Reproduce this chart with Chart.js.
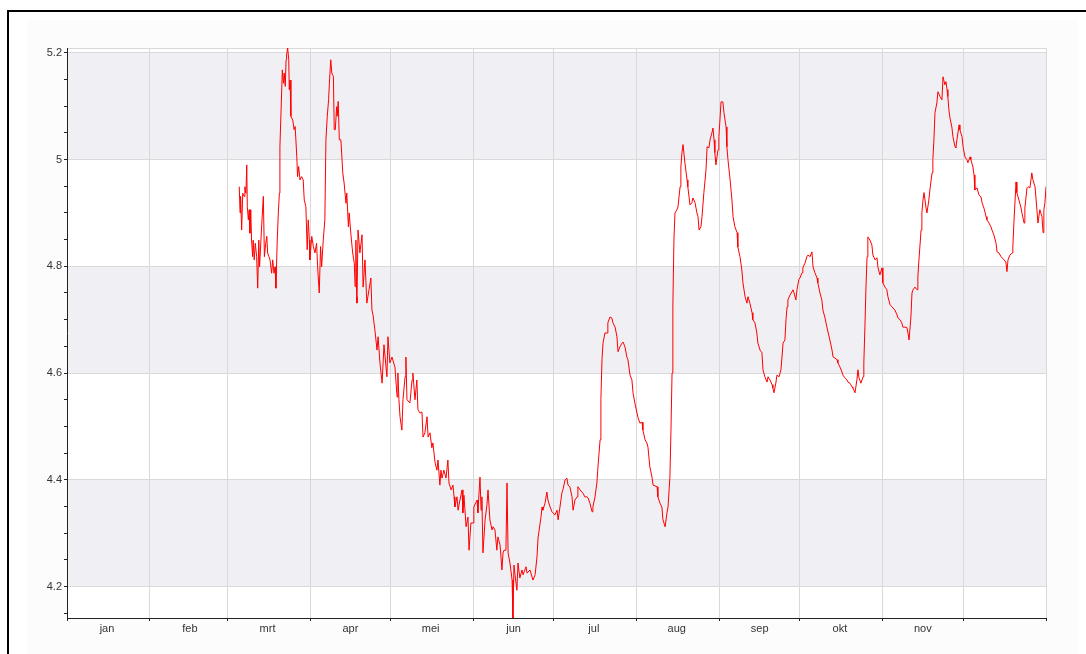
<!DOCTYPE html>
<html>
<head>
<meta charset="utf-8">
<script src="https://cdn.jsdelivr.net/npm/chart.js@4.4.1/dist/chart.umd.min.js"></script>
<style>
html,body{margin:0;padding:0;background:#fff;width:1086px;height:654px;overflow:hidden;}
#frame{position:absolute;left:7px;top:10px;width:1079px;height:644px;border-top:2px solid #000;border-left:2px solid #000;box-sizing:border-box;}
#panel{position:absolute;left:27px;top:20px;width:1051px;height:634px;background:#fcfcfc;}
#wrap{position:absolute;left:0;top:0;width:1086px;height:654px;}
</style>
</head>
<body>
<div id="frame"></div>
<div id="panel"></div>
<div id="wrap"><canvas id="c" width="1086" height="654"></canvas></div>
<script>
// Month axis (leap year, day index from 1 Jan)
const monthStarts = [0,31,60,91,121,152,182,213,244,274,305,335,366];
const monthLabels = ['jan','feb','mrt','apr','mei','jun','jul','aug','sep','okt','nov'];

// Y axis ticks
const yMin = 4.141, yMax = 5.209;
const yMajorStep = 0.2, yMinorStep = 0.05;
const shadedBands = [[4.2,4.4],[4.6,4.8],[5.0,5.2]];

// Series: day of year and level
const days = [
64.4,64.7,64.9,65.3,65.7,66.2,66.5,66.9,67.2,67.4,
67.8,68.1,68.4,68.7,69.0,69.4,69.6,70.0,70.4,70.9,
71.3,71.7,72.0,72.5,72.9,73.4,73.8,74.3,74.7,75.0,
75.5,75.9,76.5,76.9,77.4,77.8,78.1,78.6,79.0,79.4,
79.6,80.0,80.5,80.9,81.2,81.6,81.9,82.1,82.5,82.9,
83.1,83.4,83.7,84.4,84.9,85.3,85.9,86.2,86.6,87.1,
87.7,88.3,88.7,89.3,89.8,90.2,90.6,90.8,91.5,92.1,
92.7,93.3,93.7,94.3,94.8,95.2,95.8,96.4,96.8,97.3,
97.8,98.1,98.6,99.0,99.6,99.9,100.3,100.8,101.0,101.4,
101.8,102.4,103.1,103.6,104.3,104.6,105.2,105.5,106.1,106.8,
107.4,107.7,108.0,108.3,108.4,108.8,109.5,110.3,110.7,111.4,
112.1,112.9,113.6,114.0,114.4,115.1,115.9,116.3,117.0,117.8,
118.5,119.6,120.0,120.7,121.5,122.6,123.4,123.7,124.1,124.5,
125.2,125.6,126.4,126.7,127.1,128.2,129.0,129.3,130.1,130.8,
131.2,132.0,132.7,133.1,133.8,134.6,135.0,135.7,136.4,136.8,
137.6,138.3,138.7,139.4,139.8,140.2,140.9,141.7,142.4,142.8,
143.6,144.3,144.7,145.0,145.8,146.2,146.9,147.7,148.0,148.4,
149.2,149.9,150.3,151.0,151.8,152.1,153.3,153.6,154.4,154.8,
155.1,155.5,156.3,157.0,157.4,158.1,158.9,159.3,160.0,160.7,
161.1,161.9,162.6,163.0,163.4,164.1,164.5,164.9,165.6,166.4,
166.7,167.1,167.5,168.2,168.6,169.3,170.1,170.5,171.6,172.0,
173.1,174.2,175.0,175.7,176.1,177.2,177.6,177.9,178.7,179.4,
179.8,180.6,181.3,181.7,182.4,183.2,183.6,184.3,185.0,185.4,
186.2,186.9,187.3,188.0,188.8,189.2,189.9,190.7,191.0,191.8,
192.5,192.9,193.6,194.4,194.8,195.5,196.3,196.6,197.4,198.1,
198.5,199.3,199.6,200.0,200.4,201.1,201.9,202.2,203.0,203.7,
204.1,204.9,205.6,206.0,206.7,207.5,207.9,208.6,209.3,209.7,
210.5,211.2,211.6,212.3,213.1,213.5,214.2,215.0,215.3,216.1,
216.8,217.2,217.9,218.7,219.1,220.6,220.9,221.7,222.4,222.8,
223.6,224.3,224.7,225.4,225.8,226.2,226.5,226.9,227.3,228.0,
228.4,229.2,229.5,229.9,230.3,231.0,231.8,232.1,232.9,233.6,
234.0,234.8,235.5,235.9,236.3,237.0,237.4,238.1,238.9,239.3,
240.0,240.4,241.1,241.5,241.9,242.2,242.6,243.0,243.4,243.7,
244.1,244.5,245.2,245.6,246.4,246.7,247.1,247.9,248.6,249.0,
249.7,250.5,250.8,251.6,252.3,252.7,253.5,254.2,254.6,255.3,
256.1,256.4,257.2,257.9,258.3,259.1,259.8,260.2,260.9,261.7,
262.1,262.8,263.6,263.9,264.3,265.0,265.4,266.2,266.9,267.3,
267.7,268.4,268.8,269.2,269.5,270.3,271.0,271.4,271.8,272.5,
272.9,273.6,274.0,274.8,275.1,275.9,276.6,277.0,277.8,278.5,
278.9,279.6,280.4,280.7,281.5,282.2,282.6,283.4,284.1,284.5,
285.2,286.0,286.4,287.1,287.9,288.2,289.0,289.7,290.1,290.8,
291.6,292.0,292.7,293.5,293.8,294.6,295.3,295.7,296.1,296.8,
297.6,297.9,298.3,298.7,299.1,299.4,300.2,300.9,301.3,302.1,
302.8,303.2,303.9,304.7,305.0,305.8,306.5,306.9,307.7,308.4,
309.5,310.3,310.7,311.4,312.1,312.5,313.3,314.0,314.4,314.8,
315.5,315.9,316.3,317.0,317.8,318.1,318.5,319.3,319.6,320.0,
320.4,321.1,321.5,322.2,322.6,323.4,323.7,324.1,324.5,325.2,
325.6,326.4,327.1,327.5,328.2,328.6,329.0,329.3,329.7,330.1,
330.8,331.2,332.0,332.3,332.7,333.5,333.8,334.6,335.0,335.7,
336.4,336.8,337.6,337.9,338.7,339.1,339.4,340.2,340.9,341.7,
342.1,342.8,343.6,343.9,344.7,345.4,345.8,346.5,347.3,347.7,
348.4,349.2,350.3,351.0,351.4,351.8,352.5,353.3,353.6,354.0,
354.8,355.1,355.9,356.6,357.0,357.8,358.1,358.9,359.3,360.0,
360.7,361.1,361.9,362.6,363.0,363.7,364.5,364.9,365.2,365.6,366.0
];
const level = [
4.949,4.900,4.931,4.868,4.937,4.931,4.949,4.937,4.990,4.912,
4.887,4.906,4.862,4.906,4.849,4.818,4.849,4.812,4.843,4.818,
4.759,4.849,4.799,4.849,4.887,4.931,4.818,4.843,4.856,4.825,
4.818,4.812,4.787,4.812,4.787,4.799,4.759,4.849,4.900,4.937,
5.024,5.087,5.168,5.143,5.162,5.137,5.187,5.196,5.209,5.187,
5.131,5.149,5.081,5.074,5.056,5.062,5.006,4.968,4.987,4.962,
4.968,4.962,4.924,4.912,4.831,4.887,4.849,4.812,4.856,4.837,
4.825,4.843,4.799,4.750,4.837,4.799,4.849,4.887,5.037,5.081,
5.112,5.143,5.187,5.162,5.156,5.056,5.056,5.099,5.081,5.109,
5.037,5.037,4.975,4.956,4.918,4.937,4.874,4.900,4.862,4.825,
4.806,4.762,4.849,4.743,4.731,4.868,4.825,4.859,4.761,4.812,
4.731,4.756,4.778,4.718,4.709,4.681,4.643,4.668,4.619,4.581,
4.653,4.593,4.668,4.619,4.630,4.611,4.555,4.600,4.550,4.518,
4.493,4.550,4.593,4.630,4.550,4.544,4.587,4.600,4.550,4.587,
4.531,4.525,4.527,4.480,4.488,4.518,4.480,4.488,4.460,4.469,
4.432,4.418,4.437,4.390,4.418,4.403,4.418,4.403,4.437,4.394,
4.381,4.390,4.368,4.349,4.368,4.343,4.362,4.381,4.338,4.371,
4.312,4.330,4.268,4.319,4.319,4.349,4.362,4.338,4.405,4.343,
4.368,4.263,4.325,4.353,4.381,4.325,4.306,4.312,4.306,4.268,
4.293,4.278,4.231,4.263,4.268,4.268,4.394,4.263,4.244,4.212,
4.141,4.240,4.222,4.193,4.244,4.216,4.231,4.222,4.237,4.225,
4.231,4.212,4.222,4.255,4.291,4.330,4.349,4.343,4.356,4.377,
4.362,4.349,4.340,4.338,4.334,4.343,4.325,4.349,4.375,4.381,
4.400,4.403,4.390,4.387,4.368,4.343,4.362,4.368,4.387,4.381,
4.377,4.375,4.368,4.368,4.366,4.356,4.340,4.349,4.368,4.394,
4.424,4.475,4.550,4.625,4.656,4.675,4.675,4.694,4.705,4.703,
4.694,4.686,4.668,4.640,4.649,4.656,4.658,4.649,4.630,4.625,
4.596,4.587,4.563,4.544,4.525,4.516,4.506,4.508,4.493,4.475,
4.469,4.461,4.424,4.405,4.390,4.387,4.368,4.356,4.349,4.325,
4.312,4.338,4.349,4.405,4.493,4.600,4.724,4.849,4.900,4.906,
4.911,4.949,4.986,5.013,5.028,4.994,4.962,4.949,4.915,4.919,
4.928,4.919,4.900,4.893,4.868,4.874,4.893,4.938,4.981,5.024,
5.022,5.037,5.050,5.059,5.037,5.013,4.990,5.005,5.018,5.043,
5.074,5.108,5.108,5.088,5.061,5.024,5.000,4.962,4.924,4.893,
4.874,4.863,4.836,4.818,4.793,4.769,4.743,4.731,4.743,4.731,
4.713,4.700,4.694,4.675,4.656,4.643,4.638,4.606,4.593,4.583,
4.593,4.587,4.578,4.572,4.563,4.581,4.596,4.593,4.606,4.630,
4.656,4.662,4.700,4.724,4.737,4.746,4.752,4.756,4.750,4.737,
4.756,4.775,4.778,4.788,4.797,4.806,4.818,4.821,4.818,4.827,
4.799,4.788,4.778,4.769,4.750,4.737,4.718,4.703,4.686,4.677,
4.662,4.643,4.630,4.628,4.625,4.619,4.611,4.602,4.596,4.591,
4.587,4.583,4.581,4.574,4.572,4.563,4.587,4.606,4.591,4.581,
4.593,4.619,4.686,4.761,4.818,4.855,4.849,4.840,4.821,4.812,
4.816,4.797,4.784,4.797,4.769,4.761,4.756,4.743,4.728,4.724,
4.718,4.709,4.703,4.700,4.694,4.686,4.686,4.685,4.675,4.662,
4.705,4.750,4.756,4.761,4.756,4.780,4.812,4.868,4.900,4.924,
4.938,4.911,4.900,4.924,4.943,4.975,5.000,5.037,5.088,5.106,
5.127,5.118,5.112,5.155,5.140,5.146,5.131,5.118,5.093,5.078,
5.061,5.043,5.024,5.022,5.037,5.065,5.056,5.043,5.024,5.005,
5.000,4.994,5.005,5.000,4.986,4.971,4.943,4.947,4.934,4.930,
4.919,4.909,4.893,4.887,4.881,4.874,4.868,4.859,4.844,4.827,
4.825,4.818,4.812,4.808,4.790,4.812,4.821,4.825,4.836,4.881,
4.958,4.938,4.924,4.911,4.900,4.881,4.909,4.947,4.949,4.947,
4.975,4.962,4.949,4.906,4.881,4.906,4.893,4.863,4.906,4.919,4.949
];

const isMajor = v => Math.abs(v / yMajorStep - Math.round(v / yMajorStep)) < 1e-6;
const FONT = {family: "'Liberation Sans', Arial, sans-serif", size: 11};
const GRID = '#d9d9d9';

const bandsPlugin = {
  id: 'bands',
  beforeDraw(chart) {
    const {ctx, chartArea: a, scales: {y}} = chart;
    ctx.save();
    ctx.fillStyle = '#ffffff';
    ctx.fillRect(a.left, a.top, a.width, a.height);
    ctx.fillStyle = '#f0eff4';
    shadedBands.forEach(([lo, hi]) => {
      const y1 = y.getPixelForValue(hi), y2 = y.getPixelForValue(lo);
      ctx.fillRect(a.left, y1, a.width, y2 - y1);
    });
    ctx.strokeStyle = GRID;
    ctx.lineWidth = 1;
    ctx.beginPath();
    ctx.moveTo(a.left, a.top + 0.5);
    ctx.lineTo(a.right, a.top + 0.5);
    ctx.stroke();
    ctx.restore();
  }
};

new Chart(document.getElementById('c'), {
  type: 'line',
  data: {
    datasets: [{
      data: days.map((d, i) => ({x: d, y: level[i]})),
      borderColor: '#ff0000',
      borderWidth: 1,
      pointRadius: 0,
      fill: false,
      tension: 0
    }]
  },
  options: {
    responsive: false,
    animation: false,
    layout: {padding: {left: 37, right: 40, top: 48, bottom: 0}},
    plugins: {legend: {display: false}, tooltip: {enabled: false}},
    scales: {
      x: {
        type: 'linear', min: 0, max: 366,
        afterBuildTicks: s => { s.ticks = monthStarts.map(v => ({value: v})); },
        afterFit: s => { s.height = 36; },
        grid: {
          color: c => (c.tick && c.tick.value === 0) ? 'rgba(0,0,0,0)' : GRID,
          tickColor: '#222', tickLength: 3, lineWidth: 1
        },
        border: {color: '#222', width: 1},
        ticks: {
          callback: (v, i) => monthLabels[i] || '',
          labelOffset: 40, maxRotation: 0, autoSkip: false,
          font: FONT, color: '#333', padding: 1
        }
      },
      y: {
        type: 'linear', min: yMin, max: yMax,
        afterBuildTicks: s => {
          const t = [];
          for (let k = Math.ceil(yMin / yMinorStep); k * yMinorStep <= yMax + 1e-9; k++) {
            t.push({value: Math.round(k * yMinorStep * 100) / 100});
          }
          s.ticks = t;
        },
        afterFit: s => { s.width = 30; },
        grid: {
          color: c => (c.tick && isMajor(c.tick.value)) ? GRID : 'rgba(0,0,0,0)',
          tickColor: '#222', tickLength: 3, lineWidth: 1
        },
        border: {color: '#222', width: 1},
        ticks: {
          callback: v => isMajor(v) ? String(+v.toFixed(1)) : '',
          autoSkip: false, font: FONT, color: '#333', padding: 2
        }
      }
    }
  },
  plugins: [bandsPlugin]
});
</script>
</body>
</html>
